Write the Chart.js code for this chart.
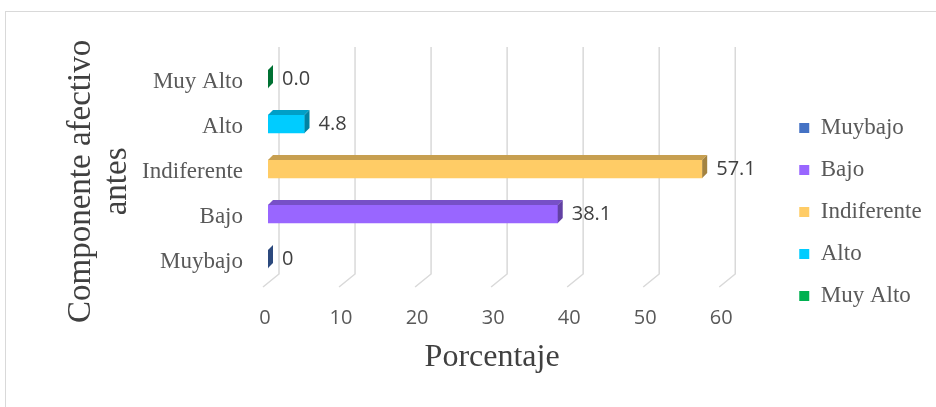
<!DOCTYPE html>
<html lang="es">
<head>
    <meta charset="UTF-8">
    <title>Componente afectivo antes</title>
    <script src="https://cdn.jsdelivr.net/npm/chart.js@4.4.1/dist/chart.umd.min.js"></script>
    <style>
        html, body { margin: 0; padding: 0; background: #fff; }
        canvas { display: block; }
    </style>
</head>
<body>
    <canvas id="chart" width="936" height="407"></canvas>

    <script>
        // Datos (de abajo hacia arriba, como en el grafico original)
        const categorias = ['Muybajo', 'Bajo', 'Indiferente', 'Alto', 'Muy Alto'];
        const porcentajes = [0, 38.1, 57.1, 4.8, 0];
        const etiquetasValor = ['0', '38.1', '57.1', '4.8', '0.0'];
        const ticksX = [0, 10, 20, 30, 40, 50, 60];
        const colores = ['#4472C4', '#9966FF', '#FFCC66', '#00CCFF', '#00B050'];

        const serif = 'Liberation Serif';
        const sans = 'Open Sans';

        function shade(hex, f) {
            const n = parseInt(hex.slice(1), 16);
            const r = Math.round(((n >> 16) & 255) * f);
            const g = Math.round(((n >> 8) & 255) * f);
            const b = Math.round((n & 255) * f);
            return `rgb(${r}, ${g}, ${b})`;
        }

        // Marco gris alrededor del grafico
        const marco = {
            id: 'marco',
            beforeDraw(chart) {
                const ctx = chart.ctx;
                ctx.save();
                ctx.strokeStyle = '#D9D9D9';
                ctx.lineWidth = 1;
                ctx.strokeRect(5.5, 11.5, chart.width, chart.height);
                ctx.restore();
            }
        };

        // Lineas de division con perspectiva (pared del fondo + suelo)
        const rejilla3d = {
            id: 'rejilla3d',
            beforeDatasetsDraw(chart) {
                const { ctx, chartArea, scales: { x } } = chart;
                ctx.save();
                ctx.strokeStyle = '#D9D9D9';
                ctx.lineWidth = 1.5;
                x.ticks.forEach(t => {
                    const px = x.getPixelForValue(t.value);
                    ctx.beginPath();
                    ctx.moveTo(px + 11, chartArea.top - 9.5);
                    ctx.lineTo(px + 11, chartArea.bottom - 7.5);
                    ctx.lineTo(px - 5, chartArea.bottom + 5.5);
                    ctx.stroke();
                });
                ctx.restore();
            }
        };

        // Cara superior y lateral de cada barra + etiqueta de valor
        const barras3d = {
            id: 'barras3d',
            afterDatasetsDraw(chart) {
                const ctx = chart.ctx;
                const meta = chart.getDatasetMeta(0);
                const dx = 5, dy = 5;
                ctx.save();
                meta.data.forEach((bar, i) => {
                    const { x, y, base, height } = bar.getProps(['x', 'y', 'base', 'height'], true);
                    const top = y - height / 2;
                    const bottom = y + height / 2;

                    ctx.fillStyle = shade(colores[i], 0.78);
                    ctx.beginPath();
                    ctx.moveTo(base, top);
                    ctx.lineTo(base + dx, top - dy);
                    ctx.lineTo(x + dx, top - dy);
                    ctx.lineTo(x, top);
                    ctx.closePath();
                    ctx.fill();

                    ctx.fillStyle = shade(colores[i], 0.64);
                    ctx.beginPath();
                    ctx.moveTo(x, top);
                    ctx.lineTo(x + dx, top - dy);
                    ctx.lineTo(x + dx, bottom - dy);
                    ctx.lineTo(x, bottom);
                    ctx.closePath();
                    ctx.fill();

                    ctx.fillStyle = '#404040';
                    ctx.font = `20px "${sans}"`;
                    ctx.textAlign = 'left';
                    ctx.textBaseline = 'middle';
                    ctx.fillText(etiquetasValor[i], x + dx + 9, y);
                });
                ctx.restore();
            }
        };

        const chart = new Chart(document.getElementById('chart'), {
            type: 'bar',
            data: {
                labels: categorias,
                datasets: [{
                    data: porcentajes,
                    backgroundColor: colores,
                    borderWidth: 0,
                    barThickness: 18
                }]
            },
            options: {
                indexAxis: 'y',
                responsive: false,
                animation: false,
                events: [],
                layout: { padding: { left: 64, top: 17, right: 12.5, bottom: 0 } },
                plugins: {
                    tooltip: { enabled: false },
                    legend: {
                        position: 'right',
                        labels: {
                            boxWidth: 10,
                            boxHeight: 10,
                            padding: 19,
                            color: '#595959',
                            font: { family: serif, size: 23 },
                            generateLabels: () => categorias.map((c, i) => ({
                                text: c,
                                fillStyle: colores[i],
                                strokeStyle: colores[i],
                                fontColor: '#595959',
                                lineWidth: 0,
                                hidden: false,
                                index: i
                            }))
                        }
                    }
                },
                scales: {
                    x: {
                        type: 'linear',
                        min: ticksX[0],
                        max: ticksX[ticksX.length - 1],
                        grid: { display: false },
                        border: { display: false },
                        ticks: {
                            stepSize: ticksX[1] - ticksX[0],
                            color: '#595959',
                            font: { family: sans, size: 20 },
                            padding: 17,
                            labelOffset: -3
                        },
                        title: {
                            display: true,
                            text: 'Porcentaje\u00A0',
                            color: '#404040',
                            font: { family: serif, size: 32 },
                            padding: { top: 0, bottom: 30 }
                        },
                        afterFit(s) { s.height = 125.5; }
                    },
                    y: {
                        type: 'category',
                        reverse: true,
                        grid: { display: false },
                        border: { display: false },
                        ticks: {
                            color: '#595959',
                            font: { family: serif, size: 23 },
                            padding: 17,
                            labelOffset: 3
                        },
                        title: {
                            display: true,
                            text: ['Componente afectivo\u00A0\u00A0\u00A0', 'antes\u00A0\u00A0\u00A0'],
                            color: '#404040',
                            font: { family: serif, size: 33, lineHeight: 1.07 },
                            padding: 0
                        },
                        afterFit(s) { s.width = 204; }
                    },
                    // ejes vacios para reservar el espacio del grafico original
                    x2: {
                        type: 'linear',
                        position: 'top',
                        grid: { display: false },
                        border: { display: false },
                        ticks: { display: false },
                        afterFit(s) { s.height = 39.5; }
                    },
                    y2: {
                        type: 'linear',
                        position: 'right',
                        grid: { display: false },
                        border: { display: false },
                        ticks: { display: false },
                        afterFit(s) { s.width = 56; }
                    }
                }
            },
            plugins: [marco, rejilla3d, barras3d]
        });
    </script>
</body>
</html>
